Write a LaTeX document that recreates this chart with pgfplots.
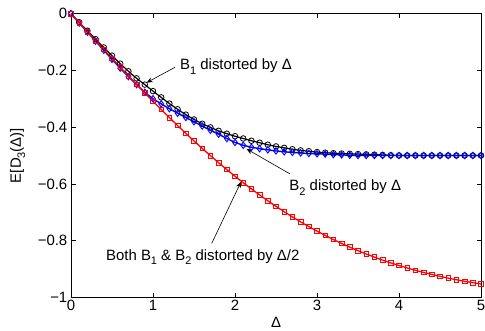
\documentclass[border=0pt]{standalone}
\usepackage{fontspec}
\setmainfont{Liberation Sans}
\usepackage{pgfplots}
\pgfplotsset{compat=1.18}
\usetikzlibrary{arrows.meta}
\newcommand{\sub}[1]{\raisebox{-4.2bp}{\fontsize{11}{11}\selectfont #1}}
\begin{document}
\fontsize{15}{18}\selectfont
\begin{tikzpicture}
\useasboundingbox (0,0) rectangle (485bp,331bp);
\begin{axis}[
  at={(71bp,33.7bp)}, anchor=south west,
  scale only axis, width=410bp, height=283.6bp,
  xmin=0, xmax=5, ymin=-1, ymax=0,
  xtick={0,1,2,3,4,5},
  ytick={-1,-0.8,-0.6,-0.4,-0.2,0},
  yticklabels={−1,−0.8,−0.6,−0.4,−0.2,0},
  tick align=inside, major tick length=4.5bp,
  tick style={black, line width=0.6bp},
  axis line style={black, line width=0.8bp},
  /pgf/number format/assume math mode=true,
  every tick label/.append style={font=\fontsize{15}{18}\selectfont, inner sep=1.5bp},
  xticklabel style={yshift=-1.5bp},
  yticklabel style={xshift=-2bp},
  xlabel={Δ}, ylabel={E[D\sub{3}(Δ)]},
  xlabel style={at={(axis description cs:0.5,-0.088)}, anchor=center, inner sep=0pt},
  ylabel style={at={(axis description cs:-0.13,0.5)}, anchor=center, rotate=0, inner sep=0pt},
  clip=false,
]
% Black: B1 distorted by Delta
\addplot[black, line width=1.2bp, mark=o, mark size=2.8bp, mark options={solid, line width=0.8bp}] coordinates {
(0,0) (0.1,-0.030) (0.2,-0.060) (0.3,-0.090) (0.4,-0.119) (0.5,-0.148)
(0.6,-0.176) (0.7,-0.203) (0.8,-0.228) (0.9,-0.250) (1.0,-0.273)
(1.1,-0.295) (1.2,-0.317) (1.3,-0.337) (1.4,-0.356) (1.5,-0.373)
(1.6,-0.388) (1.7,-0.401) (1.8,-0.413) (1.9,-0.423) (2.0,-0.432)
(2.1,-0.440) (2.2,-0.448) (2.3,-0.455) (2.4,-0.462) (2.5,-0.468)
(2.6,-0.473) (2.7,-0.478) (2.8,-0.482) (2.9,-0.485) (3.0,-0.488)
(3.1,-0.490) (3.2,-0.492) (3.3,-0.493) (3.4,-0.494) (3.5,-0.495)
(3.6,-0.496) (3.7,-0.497) (3.8,-0.498) (3.9,-0.499) (4.0,-0.500)
(4.1,-0.500) (4.2,-0.500) (4.3,-0.500) (4.4,-0.500) (4.5,-0.500)
(4.6,-0.500) (4.7,-0.500) (4.8,-0.500) (4.9,-0.500) (5.0,-0.500)
};
% Blue: B2 distorted by Delta
\addplot[blue, line width=1.4bp, mark=diamond, mark size=3.2bp, mark options={solid, line width=0.9bp}] coordinates {
(0,0) (0.1,-0.033) (0.2,-0.065) (0.3,-0.097) (0.4,-0.129) (0.5,-0.161)
(0.6,-0.192) (0.7,-0.222) (0.8,-0.250) (0.9,-0.277) (1.0,-0.300)
(1.1,-0.318) (1.2,-0.335) (1.3,-0.351) (1.4,-0.366) (1.5,-0.381)
(1.6,-0.396) (1.7,-0.411) (1.8,-0.425) (1.9,-0.440) (2.0,-0.454)
(2.1,-0.464) (2.2,-0.471) (2.3,-0.476) (2.4,-0.480) (2.5,-0.484)
(2.6,-0.487) (2.7,-0.489) (2.8,-0.491) (2.9,-0.493) (3.0,-0.494)
(3.1,-0.495) (3.2,-0.497) (3.3,-0.498) (3.4,-0.499) (3.5,-0.500)
(3.6,-0.500) (3.7,-0.500) (3.8,-0.500) (3.9,-0.500) (4.0,-0.500)
(4.1,-0.500) (4.2,-0.500) (4.3,-0.500) (4.4,-0.500) (4.5,-0.500)
(4.6,-0.500) (4.7,-0.500) (4.8,-0.500) (4.9,-0.500) (5.0,-0.500)
};
% Red: both distorted by Delta/2
\addplot[red, line width=1.3bp, mark=square, mark size=2.3bp, mark options={solid, line width=0.8bp}] coordinates {
(0,0) (0.1,-0.0317) (0.2,-0.0634) (0.3,-0.0949) (0.4,-0.1263) (0.5,-0.1574)
(0.6,-0.1884) (0.7,-0.2190) (0.8,-0.2494) (0.9,-0.2793) (1.0,-0.3088)
(1.1,-0.3379) (1.2,-0.3664) (1.3,-0.3945) (1.4,-0.4219) (1.5,-0.4487)
(1.6,-0.4749) (1.7,-0.5005) (1.8,-0.5254) (1.9,-0.5496) (2.0,-0.5731)
(2.1,-0.5959) (2.2,-0.6179) (2.3,-0.6391) (2.4,-0.6597) (2.5,-0.6793)
(2.6,-0.6983) (2.7,-0.7165) (2.8,-0.7340) (2.9,-0.7507) (3.0,-0.7666)
(3.1,-0.7819) (3.2,-0.7964) (3.3,-0.8101) (3.4,-0.8232) (3.5,-0.8356)
(3.6,-0.8473) (3.7,-0.8584) (3.8,-0.8688) (3.9,-0.8787) (4.0,-0.8880)
(4.1,-0.8966) (4.2,-0.9048) (4.3,-0.9124) (4.4,-0.9195) (4.5,-0.9262)
(4.6,-0.9324) (4.7,-0.9381) (4.8,-0.9435) (4.9,-0.9484) (5.0,-0.9530)
};
% annotations
\draw[black, line width=0.6bp, -{Stealth[length=6bp,width=5bp]}] (axis cs:1.268,-0.189) -- (axis cs:0.923,-0.243);
\node[anchor=base west, inner sep=0pt] at (axis cs:1.329,-0.1985) {B\sub{1} distorted by Δ};
\draw[black, line width=0.6bp, -{Stealth[length=6bp,width=5bp]}] (axis cs:2.671,-0.565) -- (axis cs:2.142,-0.477);
\node[anchor=base west, inner sep=0pt] at (axis cs:2.662,-0.625) {B\sub{2} distorted by Δ};
\draw[black, line width=0.6bp, -{Stealth[length=6bp,width=5bp]}] (axis cs:1.716,-0.810) -- (axis cs:2.073,-0.593);
\node[anchor=base west, inner sep=0pt] at (axis cs:0.426,-0.8685) {Both B\sub{1} \& B\sub{2} distorted by Δ/2};
\end{axis}
\end{tikzpicture}
\end{document}
